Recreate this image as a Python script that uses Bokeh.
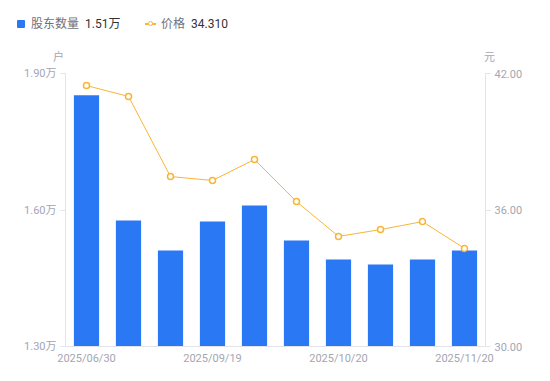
from bokeh.plotting import figure
from bokeh.models import Range1d, LinearAxis, FixedTicker, ColumnDataSource, Div
from bokeh.layouts import column
from bokeh.embed import file_html
from bokeh.resources import INLINE

dates = ["2025/06/30", "2025/07/31", "2025/08/29", "2025/09/19", "2025/09/30",
         "2025/10/10", "2025/10/20", "2025/10/31", "2025/11/10", "2025/11/20"]
holders = [1.852, 1.577, 1.511, 1.575, 1.610, 1.533, 1.491, 1.480, 1.491, 1.511]  # 万户
prices = [41.47, 40.99, 37.47, 37.30, 38.22, 36.37, 34.84, 35.14, 35.49, 34.31]
shown_dates = [0, 3, 6, 9]
left_ticks = [1.3, 1.6, 1.9]
right_ticks = [30, 36, 42]
legend_names = ["股东数量", "价格"]
left_unit = "户"
right_unit = "元"

FONT = "Roboto, 'Noto Sans CJK SC'"
BLUE = "#2a78f4"
ORANGE = "#f8b537"
GRAY = "#a3a6b4"
LEGEND_GRAY = "#6e717d"
AXIS = "#e3e4e8"

# ---- header: legend + axis units (HTML text) ----
def span(left, top, txt, color, size, extra=""):
    return (f'<span style="position:absolute;left:{left}px;top:{top}px;'
            f'line-height:{size + 4}px;font-size:{size}px;color:{color};'
            f'white-space:nowrap;{extra}">{txt}</span>')

html = ('<div style="position:relative;width:550px;height:65px;'
        f'font-family:{FONT};">')
html += ('<span style="position:absolute;left:17px;top:20px;width:8px;height:8px;'
         f'border-radius:1px;background:{BLUE};"></span>')
html += span(31, 16, legend_names[0], LEGEND_GRAY, 12)
html += span(85, 16, f"{holders[-1]:.2f}万", "#333333", 12)
html += ('<span style="position:absolute;left:145px;top:23px;width:11px;height:1.5px;'
         f'background:{ORANGE};"></span>')
html += ('<span style="position:absolute;left:147.5px;top:20.5px;width:5px;height:5px;'
         f'border-radius:50%;background:#fff;border:1.5px solid {ORANGE};"></span>')
html += span(161, 16, legend_names[1], LEGEND_GRAY, 12)
html += span(191, 16, f"{prices[-1]:.3f}", "#333333", 12)
html += span(53, 50, left_unit, GRAY, 11)
html += span(484, 50, right_unit, GRAY, 11)
html += '</div>'
header = Div(text=html, width=550, height=65, margin=0)

# ---- main chart ----
n = len(dates)
src = ColumnDataSource(dict(x=list(range(n)), h=holders, p=prices))
p = figure(width=550, height=316, x_range=Range1d(-0.5, n - 0.5),
           y_range=Range1d(left_ticks[0], left_ticks[-1]),
           output_backend="svg", toolbar_location=None,
           min_border_left=65, min_border_right=65, min_border_top=8,
           min_border_bottom=35)
p.extra_y_ranges = {"price": Range1d(right_ticks[0], right_ticks[-1])}
p.outline_line_color = None
p.grid.visible = False

p.vbar(x="x", top="h", bottom=left_ticks[0], width=0.6, source=src,
       fill_color=BLUE, line_color=None)
p.line(x="x", y="p", source=src, y_range_name="price", line_color=ORANGE, line_width=1)
p.scatter(x="x", y="p", source=src, y_range_name="price", size=6,
          fill_color="white", line_color=ORANGE, line_width=1.5)

def style(ax):
    ax.axis_line_color = AXIS
    ax.major_tick_line_color = AXIS
    ax.minor_tick_line_color = None
    ax.major_tick_out = 5
    ax.major_tick_in = 0
    ax.major_label_text_color = GRAY
    ax.major_label_text_font = FONT
    ax.major_label_text_font_size = "11px"
    ax.major_label_standoff = 4

xa = p.xaxis[0]
style(xa)
xa.ticker = FixedTicker(ticks=shown_dates)
xa.major_label_overrides = {i: dates[i] for i in shown_dates}
xa.major_tick_line_color = None
xa.major_tick_out = 0
xa.major_label_standoff = 5

ya = p.yaxis[0]
style(ya)
ya.ticker = FixedTicker(ticks=left_ticks)
ya.major_label_overrides = {t: f"{t:.2f}万" for t in left_ticks}

ra = LinearAxis(y_range_name="price")
style(ra)
ra.ticker = FixedTicker(ticks=right_ticks)
ra.major_label_overrides = {t: f"{t:.2f}" for t in right_ticks}
p.add_layout(ra, "right")

layout = column(header, p, spacing=0)
open("out.html", "w").write(file_html(layout, INLINE))
